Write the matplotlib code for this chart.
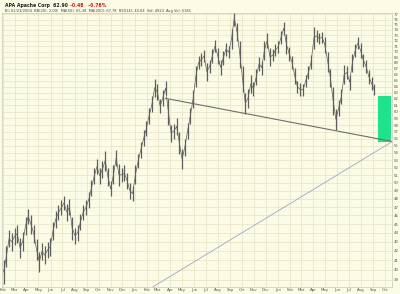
import numpy as np
import matplotlib
matplotlib.use("Agg")
import matplotlib.pyplot as plt
import matplotlib.dates as mdates
from matplotlib.ticker import FixedLocator, NullLocator, FuncFormatter
import datetime as dt

# weekly price ranges, first week starting 2004-02-02
week0 = dt.date(2004, 2, 2)
lows = [38.6, 40.3, 42.4, 42.0, 42.6, 42.9, 41.3, 42.0, 43.8, 45.0,
        43.9, 42.9, 41.0, 39.8, 41.0, 40.6, 41.2, 41.5, 43.2, 44.6,
        45.5, 46.0, 46.6, 45.4, 46.0, 43.2, 42.8, 43.1, 44.3, 45.5,
        46.0, 46.9, 48.3, 49.8, 51.1, 49.9, 50.7, 51.6, 49.6, 48.3,
        49.8, 52.2, 49.6, 50.1, 50.2, 49.2, 48.0, 47.7, 49.8, 51.9,
        53.3, 54.9, 56.4, 58.2, 59.9, 62.3, 61.8, 59.8, 60.9, 62.6,
        58.0, 55.6, 56.0, 56.6, 53.9, 51.8, 53.6, 56.0, 58.2, 60.6,
        64.0, 66.9, 67.4, 68.1, 65.0, 66.2, 68.0, 69.9, 67.9, 66.0,
        67.6, 69.3, 68.8, 70.5, 74.8, 72.0, 67.2, 63.2, 59.7, 60.6,
        63.0, 62.5, 64.2, 66.6, 66.0, 68.6, 70.6, 67.5, 68.3, 69.2,
        69.8, 71.3, 73.0, 69.5, 68.4, 67.0, 64.5, 62.9, 62.5, 62.4,
        63.9, 65.2, 67.0, 70.4, 71.8, 71.3, 71.6, 69.8, 66.5, 64.0,
        59.5, 57.2, 59.3, 61.2, 64.4, 65.2, 63.5, 66.5, 69.0, 70.5,
        68.9, 67.3, 66.2, 64.5, 63.4, 62.6]
highs = [41.0, 42.5, 44.3, 44.0, 44.6, 44.9, 43.4, 44.1, 45.8, 46.8,
         46.0, 44.9, 43.3, 41.9, 42.9, 42.5, 43.0, 43.4, 45.2, 46.5,
         47.2, 47.8, 48.4, 47.4, 48.0, 45.8, 44.6, 44.9, 46.2, 47.3,
         47.9, 48.9, 50.4, 51.9, 53.2, 52.0, 52.9, 54.3, 52.0, 50.2,
         52.3, 54.4, 52.5, 52.0, 52.3, 51.3, 50.0, 49.6, 52.3, 53.9,
         55.6, 57.2, 58.6, 60.6, 62.4, 65.3, 64.4, 62.0, 63.4, 64.9,
         62.0, 58.0, 58.2, 59.0, 57.0, 54.5, 56.0, 58.3, 60.6, 63.4,
         67.4, 69.2, 69.8, 70.3, 68.0, 68.6, 70.4, 72.2, 70.6, 68.5,
         70.2, 71.6, 71.0, 74.2, 77.8, 75.3, 72.0, 67.5, 63.0, 63.6,
         65.9, 64.8, 67.0, 69.1, 68.4, 72.0, 73.4, 70.6, 70.4, 71.4,
         71.9, 73.8, 75.6, 73.2, 70.8, 69.3, 67.2, 65.0, 64.6, 64.5,
         66.0, 67.5, 69.4, 74.6, 74.0, 73.5, 73.7, 72.6, 70.0, 67.0,
         64.0, 60.5, 61.8, 63.6, 67.6, 67.5, 66.0, 69.6, 71.4, 72.6,
         71.5, 69.6, 68.6, 66.8, 65.6, 64.4]

# trendlines (start date, start price, end date, end price)
grey_line = [dt.date(2005, 3, 21), 62.1, dt.date(2006, 10, 20), 55.6]
blue_line = [dt.date(2005, 1, 17), 37.6, dt.date(2006, 10, 20), 55.6]
# target box
box_dates = [dt.date(2006, 9, 14), dt.date(2006, 10, 17)]
box_prices = [55.6, 62.5]

y_ticks = list(range(39, 78))
month_names = ["Jan", "Feb", "Mar", "Apr", "May", "Jun",
               "Jul", "Aug", "Sep", "Oct", "Nov", "Dec"]

bg = "#fcfce6"
fig = plt.figure(figsize=(4.0, 2.94), dpi=100, facecolor=bg)
ax = fig.add_axes([0.005, 0.024, 0.975, 0.932], facecolor=bg)

dates = [week0 + dt.timedelta(days=7 * i) for i in range(len(lows))]
ax.vlines(dates, lows, highs, color="#5e5e5e", lw=0.9)
# connect consecutive weeks so the series reads as one jagged trace
mids = [(l + h) / 2 for l, h in zip(lows, highs)]
ax.plot(dates, mids, color="#5e5e5e", lw=0.5)

ax.plot(grey_line[0::2], grey_line[1::2], color="#6e6e6e", lw=0.8)
ax.plot(blue_line[0::2], blue_line[1::2], color="#9aa6c8", lw=0.6)
ax.fill_between(box_dates, box_prices[0], box_prices[1],
                color="#1fe38c", lw=0)

ax.set_yscale("log")
ax.set_ylim(38.3, 77.3)
ax.set_xlim(dt.date(2004, 1, 29), dt.date(2006, 10, 19))

ax.yaxis.set_major_locator(FixedLocator(y_ticks))
ax.yaxis.set_minor_locator(NullLocator())
ax.yaxis.set_major_formatter(FuncFormatter(lambda v, p: "%d" % round(v)))
ax.yaxis.tick_right()
ax.tick_params(axis="y", labelsize=2.8, length=0, pad=1.5, colors="#555555")

ax.xaxis.set_major_locator(mdates.MonthLocator())
ax.xaxis.set_major_formatter(FuncFormatter(
    lambda v, p: month_names[mdates.num2date(v).month - 1]))
ax.tick_params(axis="x", labelsize=2.8, length=0, pad=1, colors="#555555")

ax.grid(True, color="#e6e2c6", lw=0.5)
ax.set_axisbelow(True)
for s in ax.spines.values():
    s.set_color("#c8c8b8")
    s.set_linewidth(0.5)

fig.text(0.012, 0.982, "APA Apache Corp  62.90", fontsize=3.3,
         weight="bold", color="#222222", va="center")
fig.text(0.175, 0.982, "-0.48   -0.76%", fontsize=3.3,
         weight="bold", color="#d01010", va="center")
fig.text(0.012, 0.962,
         "BI: 01/23/2004  BB(20): 2.00)  MA(50): 65.38  MA(200): 67.78  "
         "RSI(14): 40.64  Vol: 4923  Avg Vol: 5361",
         fontsize=2.6, color="#444444", va="center")

fig.savefig("out.png", dpi=100, facecolor=bg)
